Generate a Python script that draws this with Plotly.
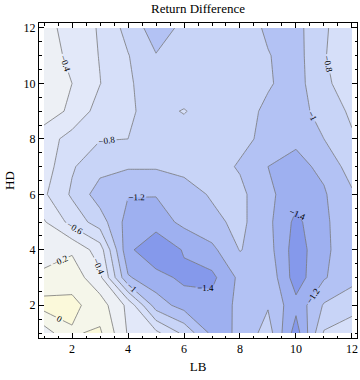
import plotly.graph_objects as go

# grid of the data: LB across, HD up
lb = list(range(1, 13))
hd = list(range(1, 13))

# one row per HD value, LB = 1 .. 12
hd01 = [-0.30, -0.02, 0.03, -0.42, -0.55, -0.85, -1.25, -1.18, -0.90, -1.50, -0.78, -0.65]
hd02 = [0.08, 0.05, -0.10, -0.45, -1.10, -1.28, -1.33, -1.15, -1.02, -1.34, -0.98, -0.90]
hd03 = [-0.16, -0.08, -0.35, -1.18, -1.32, -1.45, -1.45, -1.15, -1.05, -1.50, -1.22, -1.05]
hd04 = [-0.28, -0.23, -0.50, -1.35, -1.58, -1.38, -1.25, -0.99, -1.12, -1.50, -1.25, -1.05]
hd05 = [-0.38, -0.67, -0.90, -1.28, -1.30, -1.15, -1.05, -0.95, -1.15, -1.45, -1.24, -1.05]
hd06 = [-0.57, -0.83, -1.10, -1.19, -1.19, -1.08, -0.98, -0.95, -1.15, -1.33, -1.22, -1.03]
hd07 = [-0.50, -0.78, -0.93, -0.98, -0.98, -0.95, -0.92, -1.02, -1.20, -1.25, -1.16, -0.90]
hd08 = [-0.50, -0.68, -0.79, -0.80, -0.87, -0.88, -0.90, -0.95, -1.05, -1.17, -1.00, -0.82]
hd09 = [-0.30, -0.44, -0.69, -0.78, -0.85, -0.79, -0.88, -0.92, -1.04, -1.10, -0.90, -0.77]
hd10 = [-0.30, -0.40, -0.595, -0.78, -0.88, -0.90, -0.90, -0.90, -0.98, -1.08, -0.84, -0.70]
hd11 = [-0.30, -0.45, -0.61, -0.79, -0.99, -0.92, -0.90, -0.90, -0.99, -1.08, -0.81, -0.70]
hd12 = [-0.33, -0.48, -0.62, -0.87, -1.10, -0.95, -0.90, -0.90, -1.03, -1.07, -0.82, -0.70]

z = [hd01, hd02, hd03, hd04, hd05, hd06, hd07, hd08, hd09, hd10, hd11, hd12]

# band colours, lowest band first
band_colors = ['#8599EB', '#9EB0F0', '#B3C2F4', '#C8D4F7', '#D6DFF9',
               '#E2E8F9', '#EDF0F5', '#F5F6EA', '#FBF9DA']
n = len(band_colors) - 1
colorscale = [[i / n, c] for i, c in enumerate(band_colors)]

serif = 'Liberation Serif'

fig = go.Figure(go.Contour(
    x=lb, y=hd, z=z,
    contours=dict(start=-1.4, end=0, size=0.2, coloring='fill',
                  showlabels=True,
                  labelfont=dict(family=serif, size=9, color='black')),
    colorscale=colorscale,
    showscale=False,
    line=dict(color='#787878', width=0.8, smoothing=0),
    hoverinfo='skip'
))

axis_common = dict(
    showline=True, linecolor='black', linewidth=1, mirror='allticks',
    ticks='inside', ticklen=5, tickcolor='black', tickwidth=1,
    showgrid=False, zeroline=False, automargin=False,
    tickfont=dict(family=serif, size=12, color='black'),
    minor=dict(ticks='inside', ticklen=2.5, dtick=0.5, tick0=0,
               tickcolor='black', showgrid=False),
)

fig.update_xaxes(range=[0.82, 12.18], tickvals=[2, 4, 6, 8, 10, 12],
                 title=dict(text='LB', font=dict(family=serif, size=13, color='black'),
                            standoff=6),
                 **axis_common)
fig.update_yaxes(range=[0.82, 12.18], tickvals=[2, 4, 6, 8, 10, 12],
                 title=dict(text='HD', font=dict(family=serif, size=13, color='black'),
                            standoff=6),
                 **axis_common)

fig.update_layout(
    width=360, height=380,
    margin=dict(l=39, r=3, t=23, b=42),
    paper_bgcolor='white', plot_bgcolor='white',
    title=dict(text='Return Difference', x=0.55, xref='container',
               y=0.978, yref='container', yanchor='middle', xanchor='center',
               font=dict(family=serif, size=13, color='black')),
)

# drop the default page margin so the figure sits at the window corner
fig.write_html("out.html", config={'displayModeBar': False},
               post_script="document.body.style.margin='0';")
